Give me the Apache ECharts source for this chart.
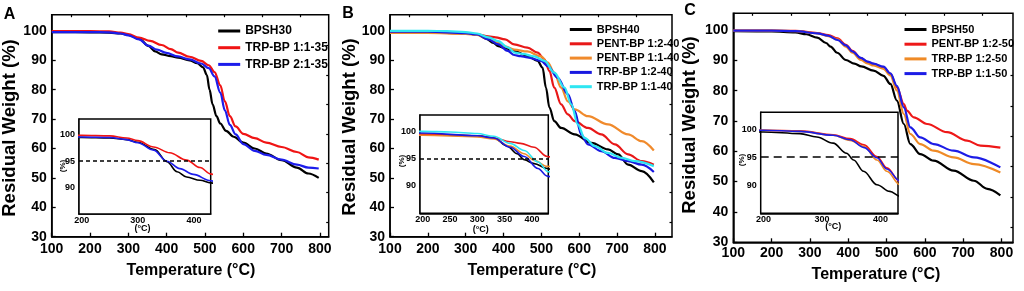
<!DOCTYPE html>
<html>
<head>
<meta charset="utf-8">
<title>TGA curves</title>
<script src="https://cdn.jsdelivr.net/npm/echarts@6/dist/echarts.min.js"></script>
<style>
  html, body { margin: 0; padding: 0; background: #fff; }
  #chart { width: 1024px; height: 291px; }
</style>
</head>
<body>
<div id="chart"></div>
<script>
var FONT = '"Liberation Sans", Arial, Helvetica, sans-serif';

// tick values
var mainXTicks = [100, 200, 300, 400, 500, 600, 700, 800];
var mainXMinor = [150, 250, 350, 450, 550, 650, 750];
var mainYTicks = [30, 40, 50, 60, 70, 80, 90, 100];
var mainYMinor = [35, 45, 55, 65, 75, 85, 95];
var insetYTicks = [90, 95, 100];
var insetXTicksAC = [200, 300, 400];
var insetXTicksB = [200, 250, 300, 350, 400];
var onsetLevel = 95;

// panel A  [temperature °C, residual weight %]
var bpsh30 = [[100,99.6],[200,99.5],[250,99.4],[280,99.1],[300,98.6],[330,97.2],[352,94.9],[370,93],[387,92],[411,91.4],[430,90.9],[460,90],[480,89],[495,87.6],[505,85],[512,80],[520,75],[530,71],[540,68.5],[555,66],[575,64],[600,62],[630,60],[660,58.3],[700,56],[740,53.5],[770,51.5],[797,50]];
var trp11_35 = [[100,99.9],[200,99.9],[250,99.8],[280,99.4],[300,98.9],[328,97.7],[357,96.6],[387,95.2],[411,93.8],[430,92.6],[460,91.2],[490,89.8],[510,88.3],[525,86],[540,81.5],[552,76],[565,71],[580,67.5],[600,65],[630,63.5],[660,62],[700,60.5],[740,58.8],[770,57],[797,56.2]];
var trp21_35 = [[100,99.6],[200,99.6],[250,99.5],[280,99.1],[300,98.5],[328,97.1],[352,95],[375,93.6],[399,92.5],[430,91.3],[460,90.3],[490,88.9],[510,87.3],[525,84.5],[540,79],[552,73],[565,68],[580,64.8],[600,61.5],[630,59.2],[660,57.8],[700,56.2],[740,54.5],[770,53.5],[797,53.2]];

// panel B
var bpsh40 = [[100,99.4],[200,99.4],[250,99.3],[300,99.2],[330,98.8],[355,97.3],[373,95.9],[386,94.8],[404,94.1],[428,93.2],[463,91.5],[490,89.8],[503,87.5],[512,80.7],[521,74],[534,69.3],[552,67],[588,64.8],[632,61.9],[676,59.7],[703,58],[729,54.5],[765,52.3],[797,48.5]];
var pent12_40 = [[100,99.5],[200,99.5],[300,99.2],[330,98.8],[360,98.1],[379,97.8],[404,97.1],[428,95.4],[463,94.3],[490,92.6],[508,90.3],[521,86.4],[534,80.7],[552,75],[570,71.6],[588,69.3],[623,67],[658,64.8],[694,61.4],[729,58],[765,55.7],[797,54.5]];
var pent11_40 = [[100,99.3],[200,99.3],[300,99],[330,98.6],[360,97.3],[386,95.9],[404,94.7],[428,93.6],[463,93],[499,91.3],[517,89.2],[534,85.8],[552,80.7],[570,76],[588,73.3],[623,71],[676,68.2],[729,64.8],[765,62.5],[797,59.3]];
var trp12_40 = [[100,99.7],[200,99.7],[300,99.2],[330,98.8],[360,97.1],[386,95.4],[411,93.2],[428,91.8],[445,91.4],[463,91],[499,89.8],[517,88],[543,84],[570,78.4],[588,72.7],[605,64.8],[623,61.4],[658,59.1],[694,56.8],[729,55.7],[765,54.5],[797,52]];
var trp11_40 = [[100,100],[200,100],[250,99.9],[300,99.6],[330,99.1],[360,97.8],[386,96.5],[411,94.4],[430,92.6],[450,92.2],[481,91.3],[508,89.8],[534,85.8],[561,80.7],[579,75],[596,68.2],[614,63.6],[641,60.8],[676,58.5],[712,56.8],[747,55.7],[797,54]];

// panel C
var bpsh50 = [[100,99.6],[200,99.5],[262,99.2],[291,98.6],[319,97.5],[342,95.7],[354,94.5],[371,92.5],[394,90.1],[416,88.9],[434,88],[466,86.6],[492,84.9],[510,82.2],[527,76.7],[545,69],[562,62.4],[588,59.1],[623,56.9],[675,53.6],[728,50.3],[763,47.6],[797,45.5]];
var pent12_50 = [[100,99.8],[200,99.8],[262,99.7],[319,99],[348,98.3],[372,97.2],[394,95.1],[411,93.1],[433,90.7],[450,89.5],[466,88.8],[492,87.7],[510,85.5],[527,81.1],[545,75.6],[553,73.4],[571,71.2],[606,69],[658,66.3],[710,63.5],[745,61.9],[797,61.2]];
var trp12_50 = [[100,99.8],[200,99.8],[262,99.6],[319,98.9],[348,98],[372,96.9],[394,94.5],[411,92.5],[433,90.1],[450,89],[466,88.3],[492,87.2],[510,85],[527,80],[545,72.3],[562,65.7],[588,62.4],[623,60.2],[675,58],[728,55.8],[797,53]];
var trp11_50 = [[100,99.8],[200,99.8],[262,99.6],[319,98.9],[348,98.1],[372,96.7],[394,94.9],[411,92.9],[433,90.8],[450,89.6],[466,88.9],[492,87.9],[510,85.7],[527,81.6],[545,74.5],[562,67.9],[588,64.6],[623,62.4],[675,60.2],[728,58],[797,54.7]];

var panels = [
    {
        letter: 'A', letterPos: [9.5, 14.3], yTitle: [10, 128], xTitle: [191, 271],
        grid: { left: 51.7, top: 14.7, width: 277, height: 222 }, xMax: 823, labelMargin: 5,
        inset: { left: 79, top: 119, width: 131.7, height: 95 }, insetTicks: insetXTicksAC,
        pctPos: [62.5, 166], degPos: [142.5, 228.5], dash: [4, 3],
        legend: { left: 211.7, top: 20, itemHeight: 12, itemGap: 4.7, fontSize: 12 },
        series: [
            { name: 'BPSH30', data: bpsh30, color: '#000000' },
            { name: 'TRP-BP 1:1-35', data: trp11_35, color: '#f01414' },
            { name: 'TRP-BP 2:1-35', data: trp21_35, color: '#1c1ceb' }
        ]
    },
    {
        letter: 'B', letterPos: [348, 13.8], yTitle: [350, 127], xTitle: [532, 271],
        grid: { left: 390, top: 14.7, width: 282, height: 222 }, xMax: 845, labelMargin: 5,
        inset: { left: 420, top: 115, width: 128.3, height: 98.3 }, insetTicks: insetXTicksB,
        pctPos: [401.5, 161], degPos: [480.7, 230], dash: [4, 3],
        legend: { left: 563.3, top: 19, itemHeight: 10, itemGap: 3.3, fontSize: 11 },
        series: [
            { name: 'BPSH40', data: bpsh40, color: '#000000' },
            { name: 'PENT-BP 1:2-40', data: pent12_40, color: '#e81818' },
            { name: 'PENT-BP 1:1-40', data: pent11_40, color: '#f08a2c' },
            { name: 'TRP-BP 1:2-40', data: trp12_40, color: '#1818e0' },
            { name: 'TRP-BP 1:1-40', data: trp11_40, color: '#2ee6f2' }
        ]
    },
    {
        letter: 'C', letterPos: [690, 10.5], yTitle: [690, 125], xTitle: [876, 275],
        grid: { left: 733.3, top: 13.3, width: 279.7, height: 229 }, xMax: 830, labelMargin: 3.5,
        inset: { left: 760.7, top: 112.3, width: 137.3, height: 101 }, insetTicks: insetXTicksAC,
        pctPos: [741.5, 160], degPos: [833.3, 227], dash: [8, 5],
        legend: { left: 898, top: 19, itemHeight: 10, itemGap: 3.7, fontSize: 11 },
        series: [
            { name: 'BPSH50', data: bpsh50, color: '#000000' },
            { name: 'PENT-BP 1:2-50', data: pent12_50, color: '#ee1818' },
            { name: 'TRP-BP 1:2-50', data: trp12_50, color: '#ef8a26' },
            { name: 'TRP-BP 1:1-50', data: trp11_50, color: '#1c1ce6' }
        ]
    }
];

var grids = [], xAxes = [], yAxes = [], series = [], legends = [], graphics = [];

function textEl(text, pos, size, rotate) {
    return {
        type: 'text', x: pos[0], y: pos[1], rotation: rotate ? Math.PI / 2 : 0, z: 50,
        style: {
            text: text, fill: '#000', textAlign: 'center', textVerticalAlign: 'middle',
            font: 'bold ' + size + 'px ' + FONT
        }
    };
}

panels.forEach(function (p) {
    var g = grids.length;
    grids.push({ left: p.grid.left, top: p.grid.top, width: p.grid.width, height: p.grid.height,
        show: true, borderColor: '#000', borderWidth: 1.5, backgroundColor: 'transparent' });
    grids.push({ left: p.inset.left, top: p.inset.top, width: p.inset.width, height: p.inset.height,
        show: true, borderColor: '#000', borderWidth: 1.5, backgroundColor: '#fff', z: 1 });

    var xi = xAxes.length, yi = yAxes.length;
    // main x: labels + major ticks
    xAxes.push({
        gridIndex: g, type: 'value', min: 100, max: p.xMax, interval: 100,
        axisLine: { show: true, lineStyle: { color: '#000', width: 1.5 } },
        axisTick: { show: true, inside: true, length: 4, customValues: mainXTicks, lineStyle: { color: '#000', width: 1.3 } },
        axisLabel: { customValues: mainXTicks, margin: p.labelMargin, color: '#000', fontSize: 14, fontWeight: 'bold', fontFamily: FONT },
        splitLine: { show: false }
    });
    // main x: minor ticks
    xAxes.push({
        gridIndex: g, type: 'value', min: 100, max: p.xMax, interval: 50,
        axisLine: { show: false },
        axisTick: { show: true, inside: true, length: 2.5, customValues: mainXMinor, lineStyle: { color: '#000', width: 1.2 } },
        axisLabel: { show: false }, splitLine: { show: false }
    });
    yAxes.push({
        gridIndex: g, type: 'value', min: 30, max: 105.5, interval: 10,
        axisLine: { show: true, lineStyle: { color: '#000', width: 1.5 } },
        axisTick: { show: true, inside: true, length: 4, customValues: mainYTicks, lineStyle: { color: '#000', width: 1.3 } },
        axisLabel: { customValues: mainYTicks, margin: 5, color: '#000', fontSize: 14, fontWeight: 'bold', fontFamily: FONT },
        splitLine: { show: false }
    });
    yAxes.push({
        gridIndex: g, type: 'value', min: 30, max: 105.5, interval: 5,
        axisLine: { show: false },
        axisTick: { show: true, inside: true, length: 2.5, customValues: mainYMinor, lineStyle: { color: '#000', width: 1.2 } },
        axisLabel: { show: false }, splitLine: { show: false }
    });
    // inset axes
    xAxes.push({
        gridIndex: g + 1, type: 'value', min: 195, max: 430, interval: 5,
        axisLine: { show: true, lineStyle: { color: '#000', width: 1.5 } },
        axisTick: { show: true, inside: true, length: 2.5, customValues: p.insetTicks, lineStyle: { color: '#000', width: 1 } },
        axisLabel: { customValues: p.insetTicks, margin: 2, color: '#000', fontSize: 9, fontWeight: 'bold', fontFamily: FONT },
        splitLine: { show: false }
    });
    yAxes.push({
        gridIndex: g + 1, type: 'value', min: 85, max: 103, interval: 5,
        axisLine: { show: true, lineStyle: { color: '#000', width: 1.5 } },
        axisTick: { show: true, inside: true, length: 2.5, customValues: insetYTicks, lineStyle: { color: '#000', width: 1 } },
        axisLabel: { customValues: insetYTicks, margin: 4, color: '#000', fontSize: 9, fontWeight: 'bold', fontFamily: FONT },
        splitLine: { show: false }
    });

    p.series.forEach(function (s, k) {
        series.push({
            name: s.name, type: 'line', xAxisIndex: xi, yAxisIndex: yi, data: s.data,
            symbol: 'none', smooth: 0.35, smoothMonotone: 'x', color: s.color,
            lineStyle: { color: s.color, width: 2.2 }, z: 3
        });
        var inset = {
            name: s.name, type: 'line', xAxisIndex: xi + 2, yAxisIndex: yi + 2, data: s.data,
            symbol: 'none', smooth: 0.35, smoothMonotone: 'x', color: s.color, clip: true,
            lineStyle: { color: s.color, width: 1.6 }, z: 4
        };
        if (k === 0) {
            inset.markLine = {
                silent: true, symbol: 'none', animation: false, label: { show: false },
                lineStyle: { color: '#000', width: 1.5, type: p.dash },
                data: [{ yAxis: onsetLevel }]
            };
        }
        series.push(inset);
    });

    legends.push({
        orient: 'vertical', left: p.legend.left, top: p.legend.top,
        itemWidth: 22, itemHeight: p.legend.itemHeight, itemGap: p.legend.itemGap,
        selectedMode: false,
        data: p.series.map(function (s) { return s.name; }),
        itemStyle: { opacity: 0 },   // hide the circle marker, keep the line
        lineStyle: { width: 3, opacity: 1 },
        textStyle: { color: '#000', fontSize: p.legend.fontSize, fontWeight: 'bold', fontFamily: FONT }
    });

    graphics.push(textEl(p.letter, p.letterPos, 16, false));
    graphics.push(textEl('Residual Weight (%)', p.yTitle, 18.5, true));
    graphics.push(textEl('Temperature (\u00b0C)', p.xTitle, 16, false));
    graphics.push(textEl('(%)', p.pctPos, 8, true));
    graphics.push(textEl('(\u00b0C)', p.degPos, 9, false));
});

var chart = echarts.init(document.getElementById('chart'), null, { renderer: 'canvas' });
chart.setOption({
    animation: false,
    backgroundColor: '#fff',
    grid: grids,
    xAxis: xAxes,
    yAxis: yAxes,
    legend: legends,
    series: series,
    graphic: { elements: graphics }
});
</script>
</body>
</html>
